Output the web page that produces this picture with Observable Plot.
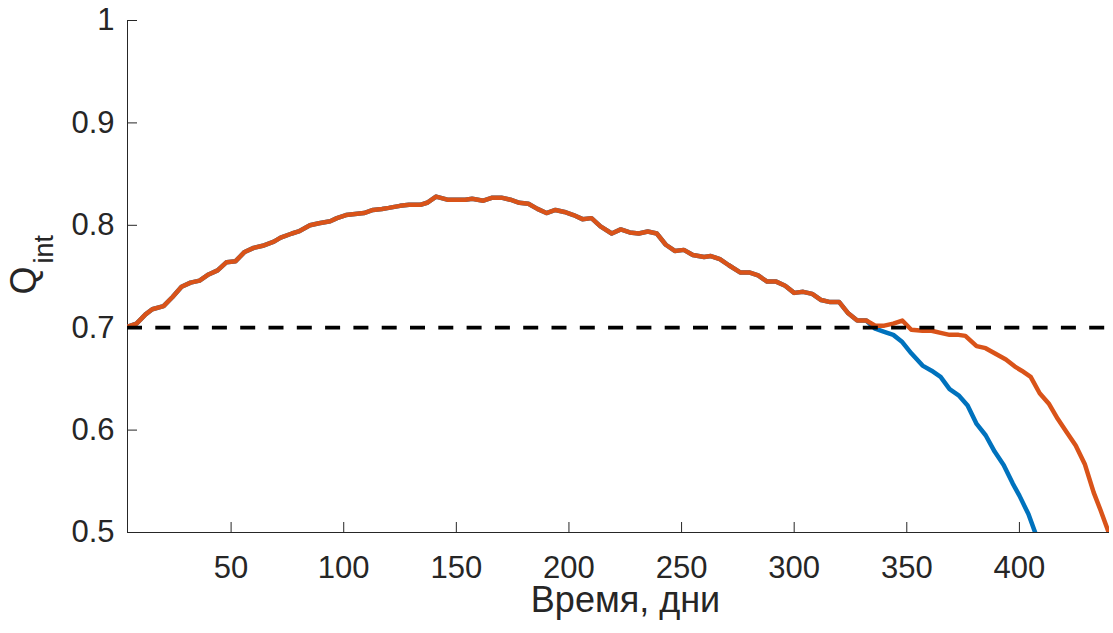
<!DOCTYPE html>
<html><head><meta charset="utf-8">
<script src="https://cdn.jsdelivr.net/npm/d3@7"></script>
<script src="https://cdn.jsdelivr.net/npm/@observablehq/plot@0.6"></script>
<style>html,body{margin:0;padding:0;background:#fff;overflow:hidden}</style>
</head><body><div id="chart"></div>
<script>
// Orange series (Q_int vs days)
const orangeDays = [4,8,12,15,20,24,28,32,36,40,44,48,52,56,60,64,69,72,77,80,85,89,94,97,101,105,109,113,117,120,125,129,134,137,141,146,150,154,157,162,166,170,174,178,182,186,190,194,198,202,206,210,214,219,223,227,231,235,239,243,247,251,255,260,263,267,271,276,280,284,288,292,296,300,304,308,312,316,320,324,328,332,336,340,344,348,352,357,361,365,369,373,376,381,385,389,394,398,401,405,409,413,417,421,425,429,433,436,440];
const orangeValues = [0.701,0.704,0.713,0.718,0.721,0.730,0.740,0.744,0.746,0.752,0.756,0.764,0.765,0.774,0.778,0.780,0.784,0.788,0.792,0.794,0.800,0.802,0.804,0.807,0.810,0.811,0.812,0.815,0.816,0.817,0.819,0.820,0.820,0.822,0.828,0.825,0.825,0.825,0.826,0.824,0.827,0.827,0.825,0.822,0.821,0.816,0.812,0.815,0.813,0.810,0.806,0.807,0.799,0.792,0.796,0.793,0.792,0.794,0.792,0.781,0.775,0.776,0.771,0.769,0.770,0.767,0.761,0.754,0.754,0.751,0.745,0.745,0.741,0.734,0.735,0.733,0.727,0.725,0.725,0.714,0.707,0.707,0.702,0.702,0.704,0.707,0.698,0.697,0.697,0.695,0.693,0.693,0.692,0.682,0.680,0.675,0.669,0.662,0.658,0.652,0.636,0.626,0.611,0.598,0.585,0.567,0.539,0.522,0.498];
// Blue series: identical to orange up to day 332, then diverges
const blueSplitDay = 332;
const blueTailDays = [336,340,344,348,352,357,361,365,369,373,377,381,385,389,393,397,400,404,407];
const blueTailValues = [0.699,0.696,0.693,0.686,0.675,0.663,0.658,0.652,0.640,0.634,0.624,0.606,0.595,0.579,0.566,0.548,0.536,0.518,0.500];
const threshold = 0.7;
const xTicks = [50,100,150,200,250,300,350,400];
const yTicks = [0.5,0.6,0.7,0.8,0.9,1];
const xDomain = [4,440];
const yDomain = [0.5,1];
const xLabel = "Время, дни";
const yLabelMain = "Q";
const yLabelSub = "int";

const orange = orangeDays.map((d,i)=>({x:d,y:orangeValues[i]}));
const blue = orange.filter(p=>p.x<=blueSplitDay).concat(blueTailDays.map((d,i)=>({x:d,y:blueTailValues[i]})));

const ink = "#262626";
const chart = Plot.plot({
  width: 1113, height: 633,
  marginLeft: 127, marginRight: 4, marginTop: 20, marginBottom: 101,
  style: {fontFamily: "'Liberation Sans', Arial, Helvetica, sans-serif", color: ink, background: "#fff"},
  x: {domain: xDomain},
  y: {domain: yDomain},
  marks: [
    Plot.axisX(xTicks, {anchor: "bottom", tickSize: -10, tickPadding: 33, fontSize: 31, label: null, tickFormat: d=>String(d)}),
    Plot.axisY(yTicks, {anchor: "left", tickSize: -10, tickPadding: 23, fontSize: 31, label: null, tickFormat: d=> d===1 ? "1" : d.toFixed(1)}),
    Plot.ruleX([xDomain[0]], {stroke: ink, strokeWidth: 1}),
    Plot.ruleY([yDomain[0]], {stroke: ink, strokeWidth: 1}),
    Plot.line(blue, {x:"x", y:"y", stroke:"#0072BD", strokeWidth:4.5, clip:true}),
    Plot.line(orange, {x:"x", y:"y", stroke:"#D95319", strokeWidth:4.5, clip:true}),
    Plot.ruleY([threshold], {stroke:"#000", strokeWidth:3.7, strokeDasharray:"15,13.3"}),
    Plot.text([xLabel], {text:d=>d, frameAnchor:"bottom", dx:7, dy:79, fontSize:36, lineAnchor:"bottom", fill: ink}),
    Plot.text([yLabelMain], {text:d=>d, frameAnchor:"left", rotate:-90, dx:-103, dy:18, fontSize:36, fill: ink}),
    Plot.text([yLabelSub], {text:d=>d, frameAnchor:"left", rotate:-90, dx:-83, dy:-13, fontSize:27, fill: ink})
  ]
});
document.getElementById("chart").appendChild(chart);
</script>
</body></html>
